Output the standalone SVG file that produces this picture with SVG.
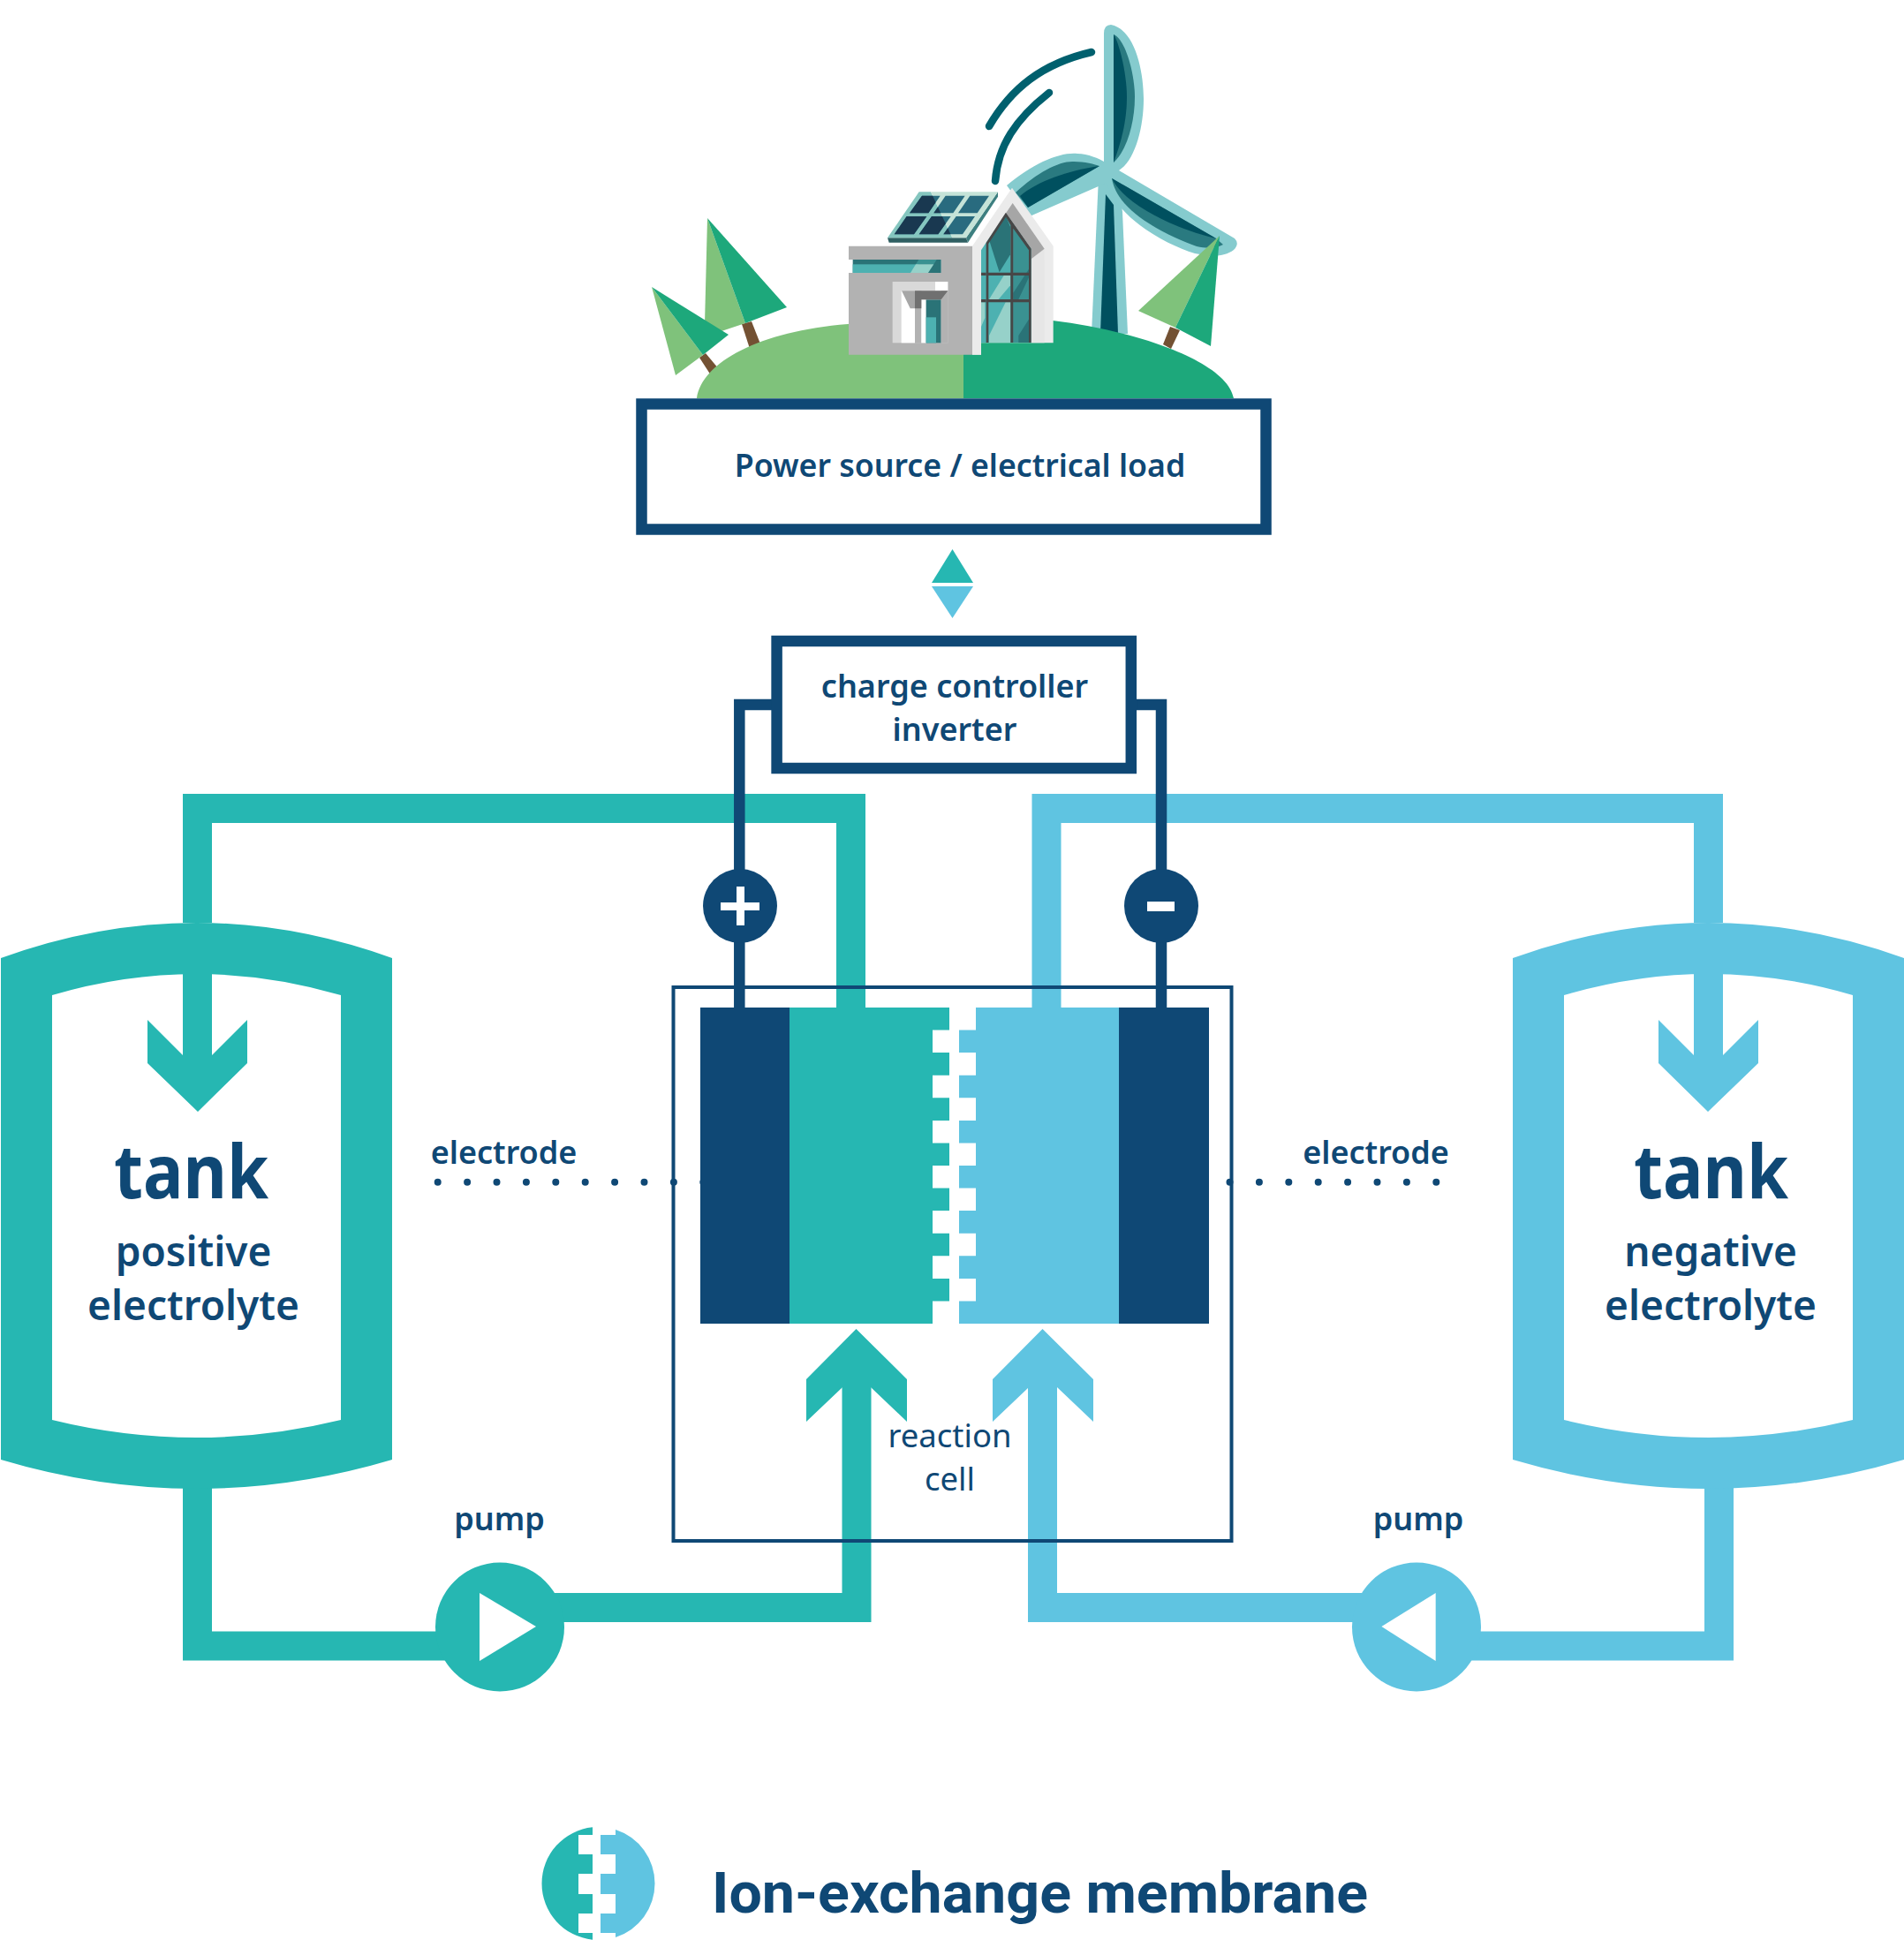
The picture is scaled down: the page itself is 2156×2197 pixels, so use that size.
<svg xmlns="http://www.w3.org/2000/svg" width="2156" height="2197" viewBox="0 0 2156 2197">
<style>
text{font-family:"Noto Sans","Open Sans",sans-serif;fill:#0f4875;text-anchor:middle}
.b{font-weight:700}.s{font-weight:600}.r{font-weight:400}
.legend-text{font-family:Roboto,"Noto Sans",sans-serif}
.teal{fill:#26b7b2}.blue{fill:#5fc4e1}.navy{fill:#0f4875}
.wire{fill:none;stroke:#0f4875;stroke-width:12.500}
.pipeT{fill:none;stroke:#26b7b2;stroke-width:33}
.pipeB{fill:none;stroke:#5fc4e1;stroke-width:33}
.dots{fill:none;stroke:#0f4875;stroke-width:8;stroke-linecap:round;stroke-dasharray:0 33.400}
.arc{fill:none;stroke:#00606e;stroke-width:8.500;stroke-linecap:round}
.lg{fill:#7fc27b}.dg{fill:#1da87b}.trunk{fill:#735133}
.tw{fill:#85cbce}.td{fill:#00505f}.tm{fill:#2a7a80}
.frame{fill:#474747}.glass{fill:#4db1b1}.gd{fill:#2a7377}.gm{fill:#3a9191}.gl{fill:#96d1c9}
</style>
<defs>
<path id="tank-shell" fill-rule="evenodd" d="M1,1085Q222,1005 444,1085V1653Q222,1719 1,1653ZM59,1127Q222,1079 386,1127V1608Q222,1648 59,1608Z"/>
<path id="arrow-down" d="M207,1100H240V1195L280,1155V1204L224,1259L167,1204V1155L207,1195Z"/>
<path id="arrow-up" d="M969.500,1505L1027,1562V1610L986,1571H954L913,1610V1562Z"/>
<path id="solar-cells" d="M312,65H374L334,124H270ZM392,65H458L418,124H352ZM475,65H540L500,124H435ZM260,135H328L285,196H218ZM345,135H410L367,196H302ZM428,135H492L450,196H385Z"/>
<clipPath id="solar-shade"><path d="M195,208L302,52H342L415,208Z"/></clipPath>
</defs>

<g id="landscape">
<g id="tree-trunks">
<path class="trunk" d="M840,367L851,364L862,392L850,398Z"/>
<path class="trunk" d="M792,405L799,400L814,418L805,425Z"/>
<path class="trunk" d="M1325,370L1336,374L1326,395L1317,390Z"/>
</g>
<g id="wind-turbine">
<path class="tw" d="M1244,200L1236,378H1277L1271,240L1264,195Z"/>
<path class="td" d="M1252,220L1246,378H1266L1261,232Z"/>
<path class="tw" d="M1250,183V38Q1250,28 1258,28C1285,33 1295,80 1295,112C1295,145 1285,182 1267,193L1398,270Q1404,276 1397,283C1385,292 1370,290 1353,287C1320,277 1265,247 1253,207L1166,245L1140,210C1170,185 1200,172 1220,174C1232,174 1245,180 1250,183Z"/>
<path class="tm" d="M1261,39C1275,45 1285,85 1285,110C1285,140 1275,172 1261,184Z"/>
<path class="td" d="M1261,39C1268,50 1276,85 1276,110C1276,140 1268,165 1261,184Z"/>
<path class="tm" d="M1259,202L1377,270L1385,277C1375,282 1365,281 1355,279C1320,266 1265,240 1259,202Z"/>
<path class="td" d="M1259,202L1377,270C1340,262 1275,235 1259,202Z"/>
<path class="tm" d="M1245,188L1164,235L1150,218C1175,195 1200,182 1216,183C1228,183 1240,186 1245,188Z"/>
<path class="td" d="M1245,188L1164,235L1155,222C1175,205 1210,193 1245,188Z"/>
<path class="arc" d="M1236,59C1180,72 1145,100 1120,143"/>
<path class="arc" d="M1188,105C1150,135 1130,165 1127,205"/>
</g>
<path id="hill-left" class="lg" d="M789,451C795,410 860,375 960,367C1000,362 1050,360 1091,360V451Z"/>
<path id="hill-right" class="dg" d="M1091,451V360C1130,360 1170,360 1192,363C1290,375 1390,410 1397,451Z"/>
<g id="tree-crowns">
<path class="lg" d="M801,247L798,367L817,375L844,366Z"/>
<path class="dg" d="M801,247L891,348L844,366Z"/>
<path class="lg" d="M738,325L765,425L796,402Z"/>
<path class="dg" d="M738,325L825,379L796,402Z"/>
<path class="lg" d="M1381,267L1289,352L1331,371Z"/>
<path class="dg" d="M1381,267L1371,392L1331,371Z"/>
</g>
<g id="house" transform="translate(940 200) scale(.33333)">
<path fill="#ebebeb" d="M483,236L618,38L758,236V565H513V605H483Z"/>
<path fill="#a6a6a6" d="M513,250L620,90L728,245L683,300V245L597,122Z"/>
<path fill="#e6e6e6" d="M683,280L728,245V565H683Z"/>
<path class="glass" d="M513,250L597,125L683,245V564H513Z"/>
<path class="gd" d="M540,215L597,135L612,170V265L575,325Z"/>
<path class="gm" d="M622,175L678,250V564H622Z"/>
<path class="gd" d="M678,336L640,417H622L622,395L678,310ZM678,480L640,540V564H678Z"/>
<path class="gl" d="M540,417L590,336H612V370L572,417Z"/>
<path class="gl" d="M540,540L596,427H612V564H540Z"/>
<path class="gl" d="M513,427H526V480L513,510Z"/>
<path class="frame" d="M530,564V225L597,122L683,245V564H675V250L622,176V326H675V336H622V417H675V427H622V564H613V427H538V564ZM538,336V417H613V336ZM538,228V326H613V165L597,137Z"/>
<path class="frame" d="M513,326H530V336H513ZM513,417H530V427H513Z"/>
<path fill="#b2b2b2" d="M63,236H483V605H63V327H377V282H63Z"/>
<rect class="gd" x="77" y="282" width="300" height="45"/>
<rect class="glass" x="77" y="298" width="223" height="29"/>
<path class="gm" d="M291,298L301,282H362L352,298Z"/>
<path class="gl" d="M273,327L291,298H352L333,327Z"/>
<rect fill="#d9d9d9" x="212" y="357" width="188" height="208"/>
<rect fill="#fff" x="357" y="357" width="43" height="31"/>
<rect fill="#fff" x="242" y="388" width="46" height="177"/>
<rect fill="#b2b2b2" x="288" y="388" width="22" height="177"/>
<rect fill="#fff" x="310" y="418" width="16" height="147"/>
<rect class="gd" x="326" y="418" width="51" height="147"/>
<rect class="glass" x="326" y="478" width="34" height="87"/>
<rect fill="#b2b2b2" x="377" y="388" width="23" height="177"/>
<path fill="#a6a6a6" d="M243,388H288V448H272Z"/>
<path fill="#707070" d="M288,388H400L377,418H310V448H288Z"/>
<rect fill="#ebebeb" x="483" y="236" width="30" height="369"/>
<path fill="#2f5f62" d="M195,208H462L468,224H200Z"/>
<path fill="#3d7f80" d="M462,208L570,52V68L468,224Z"/>
<path fill="#85c6bf" d="M195,208L302,52H342L415,208Z"/>
<path fill="#c5e3d8" d="M342,52H570L462,208H415Z"/>
<use href="#solar-cells" fill="#296b7f"/>
<use href="#solar-cells" fill="#193850" clip-path="url(#solar-shade)"/>
</g>
</g>

<g id="connectors">
<path class="pipeT" d="M223.500,1045V915.500H963.500V1141"/>
<path class="pipeB" d="M1934.500,1045V915.500H1185V1141"/>
<path class="pipeT" d="M223.500,1685V1864H566"/>
<path class="pipeT" d="M566,1820.500H970V1540"/>
<path class="pipeB" d="M1946.500,1685V1864H1604"/>
<path class="pipeB" d="M1604,1820.500H1180.500V1540"/>
<path class="wire" d="M880,798H837.300V1141"/>
<path class="wire" d="M1281,798H1315V1141"/>
<path id="updown-a" class="teal" d="M1055,660H1102L1078.500,622Z"/>
<path id="updown-b" class="blue" d="M1055,664H1102L1078.500,700Z"/>
<path class="dots" d="M495.700,1338.700H800"/>
<path class="dots" d="M1392.500,1338.700H1630"/>
</g>

<g id="power-box">
<rect x="726.500" y="457.500" width="707" height="142" fill="#fff" stroke="#0f4875" stroke-width="12.500"/>
<text class="s" x="1087" y="540" font-size="35.700">Power source / electrical load</text>
</g>
<g id="controller">
<rect x="879.600" y="726" width="401.200" height="144" fill="#fff" stroke="#0f4875" stroke-width="12.500"/>
<text class="s" x="1081" y="790" font-size="36">charge controller</text>
<text class="s" x="1081" y="839" font-size="36">inverter</text>
</g>

<g id="tank-positive">
<use href="#tank-shell" class="teal"/>
<use href="#arrow-down" class="teal"/>
<text class="b" x="216.500" y="1357" font-size="84" textLength="175" lengthAdjust="spacingAndGlyphs">tank</text>
<text class="s" x="219" y="1434" font-size="46">positive</text>
<text class="s" x="219" y="1495" font-size="46">electrolyte</text>
</g>
<g id="tank-negative">
<use href="#tank-shell" class="blue" transform="matrix(-1 0 0 1 2157 0)"/>
<use href="#arrow-down" class="blue" transform="matrix(-1 0 0 1 2158 0)"/>
<text class="b" x="1937.500" y="1357" font-size="84" textLength="175" lengthAdjust="spacingAndGlyphs">tank</text>
<text class="s" x="1937" y="1434" font-size="46">negative</text>
<text class="s" x="1937" y="1495" font-size="46">electrolyte</text>
</g>

<g id="reaction-cell">
<rect x="762.500" y="1118" width="632" height="627" fill="none" stroke="#0f4875" stroke-width="4"/>
<rect class="navy" x="793" y="1141" width="101" height="358"/>
<rect class="navy" x="1267" y="1141" width="102" height="358"/>
<path class="teal" d="M894,1141H1075V1166.600H1056V1192.100H1075V1217.700H1056V1243.300H1075V1268.900H1056V1294.400H1075V1320H1056V1345.600H1075V1371.100H1056V1396.700H1075V1422.300H1056V1447.900H1075V1473.400H1056V1499H894Z"/>
<path class="blue" d="M1267,1141H1105V1166.600H1086V1192.100H1105V1217.700H1086V1243.300H1105V1268.900H1086V1294.400H1105V1320H1086V1345.600H1105V1371.100H1086V1396.700H1105V1422.300H1086V1447.900H1105V1473.400H1086V1499H1267Z"/>
<use href="#arrow-up" class="teal"/>
<use href="#arrow-up" class="blue" transform="translate(211 0)"/>
<text class="r" x="1075.500" y="1639" font-size="36.500">reaction</text>
<text class="r" x="1075.500" y="1688" font-size="36.500">cell</text>
</g>

<g id="terminal-positive">
<circle class="navy" cx="838" cy="1026" r="42"/>
<path fill="#fff" d="M834,1004H843V1022H860V1031H843V1048H834V1031H816V1022H834Z"/>
</g>
<g id="terminal-negative">
<circle class="navy" cx="1315" cy="1026" r="42"/>
<rect fill="#fff" x="1299" y="1021" width="31" height="11"/>
</g>

<g id="pump-positive">
<circle class="teal" cx="566" cy="1842.500" r="73"/>
<path fill="#fff" d="M543,1804L607,1842L543,1881Z"/>
<text class="s" x="565.500" y="1733" font-size="36">pump</text>
</g>
<g id="pump-negative">
<circle class="blue" cx="1604" cy="1842.500" r="73"/>
<path fill="#fff" d="M1625.700,1804L1564.400,1842L1625.700,1881Z"/>
<text class="s" x="1606" y="1733" font-size="36">pump</text>
</g>

<g id="label-electrode-left"><text class="s" x="570.500" y="1318" font-size="36">electrode</text></g>
<g id="label-electrode-right"><text class="s" x="1558" y="1318" font-size="36">electrode</text></g>

<g id="legend">
<path class="teal" d="M671,2069.300A64,64 0 0 0 613.500,2133A64,64 0 0 0 671,2196.700V2189H655V2167H671V2145H655V2122H671V2100H655V2078H671Z"/>
<path class="blue" d="M697,2072A64,64 0 0 1 741.500,2133A64,64 0 0 1 697,2194V2189H680V2167H697V2145H680V2122H697V2100H680V2078H697Z"/>
<text class="b legend-text" x="1177.500" y="2166" font-size="64" textLength="743" lengthAdjust="spacingAndGlyphs">Ion-exchange membrane</text>
</g>
</svg>
